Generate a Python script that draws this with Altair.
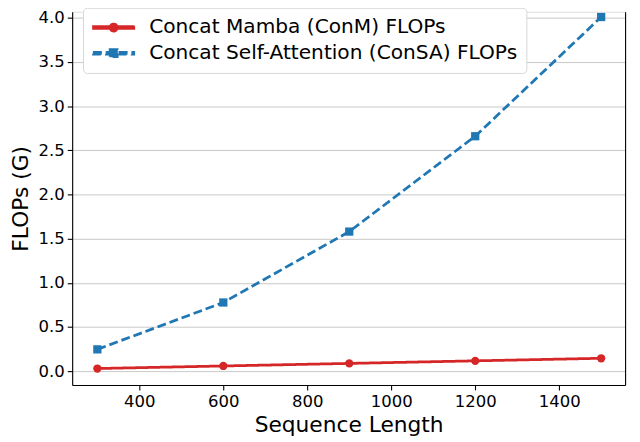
import altair as alt
import pandas as pd

seq_len = [300, 600, 900, 1200, 1500]
conm_flops = [0.029, 0.058, 0.087, 0.116, 0.145]
consa_flops = [0.246, 0.777, 1.58, 2.66, 4.01]
series_names = ["Concat Mamba (ConM) FLOPs", "Concat Self-Attention (ConSA) FLOPs"]
series_colors = ["#d62728", "#1f77b4"]
x_ticks = [400, 600, 800, 1000, 1200, 1400]
y_ticks = [0.0, 0.5, 1.0, 1.5, 2.0, 2.5, 3.0, 3.5, 4.0]

rows = []
for name, vals in zip(series_names, [conm_flops, consa_flops]):
    for x, v in zip(seq_len, vals):
        rows.append({"len": x, "flops": v, "series": name})
df = pd.DataFrame(rows)

FONT = "DejaVu Sans"

# legend glyphs: line + marker (unit box -1..1)
red_glyph = ("M-1,-0.07H1V0.07H-1Z "
             "M-0.2,0A0.2,0.2,0,1,1,0.2,0A0.2,0.2,0,1,1,-0.2,0Z")
blue_glyph = ("M-1,-0.07H-0.57V0.07H-1Z M-0.38,-0.07H0.05V0.07H-0.38Z "
              "M0.24,-0.07H0.67V0.07H0.24Z M0.86,-0.07H1V0.07H0.86Z "
              "M-0.2,-0.2H0.2V0.2H-0.2Z")

x_scale = alt.Scale(domain=[240, 1557], nice=False, zero=False)
y_scale = alt.Scale(domain=[-0.157, 4.07], nice=False, zero=False)

x_main = alt.X("len:Q", scale=x_scale,
               axis=alt.Axis(values=x_ticks, format="d", title="Sequence Length", grid=False,
                             labelFontSize=16.7, titleFontSize=22, tickSize=5,
                             labelPadding=4, titlePadding=4, domainColor="#000000",
                             tickColor="#000000", labelColor="#000000",
                             titleColor="#000000", titleFontWeight="normal",
                             labelFont=FONT, titleFont=FONT, domainWidth=1.1,
                             tickWidth=1.1))
y_main = alt.Y("flops:Q", scale=y_scale,
               axis=alt.Axis(values=y_ticks, format=".1f", title="FLOPs (G)", grid=True,
                             gridColor="#c8c8c8", gridWidth=1,
                             labelFontSize=16.7, titleFontSize=22, tickSize=5,
                             labelPadding=3, titlePadding=6, domainColor="#000000",
                             tickColor="#000000", labelColor="#000000",
                             titleColor="#000000", titleFontWeight="normal",
                             labelFont=FONT, titleFont=FONT, domainWidth=1.1,
                             tickWidth=1.1))
y_right = alt.Y("flops:Q", scale=y_scale,
                axis=alt.Axis(orient="right", labels=False, ticks=False, grid=False,
                              title=None, domain=True, domainColor="#000000",
                              domainWidth=1.1))
x_plain = alt.X("len:Q")
y_plain = alt.Y("flops:Q", axis=None)

color_scale = alt.Scale(domain=series_names, range=series_colors)
color_nolegend = alt.Color("series:N", scale=color_scale, legend=None)

leg = dict(title=None, orient="none", legendX=11, legendY=-4,
           symbolSize=1764, symbolOpacity=1,
           labelFontSize=20.4, labelFont=FONT, labelColor="#000000",
           labelOffset=14, clipHeight=22, rowPadding=4,
           padding=9, fillColor="white", strokeColor="#d6d6d6",
           cornerRadius=4, labelLimit=600)

base = alt.Chart(df)

legend_layer = base.mark_point(filled=True, opacity=0).encode(
    x=x_main, y=y_main,
    color=alt.Color("series:N", scale=color_scale, legend=alt.Legend(**leg)),
    shape=alt.Shape("series:N",
                    scale=alt.Scale(domain=series_names, range=[red_glyph, blue_glyph]),
                    legend=alt.Legend(**leg)),
)

lines = base.mark_line(strokeWidth=2.8).encode(
    x=x_plain, y=y_right, color=color_nolegend,
    strokeDash=alt.StrokeDash("series:N",
                              scale=alt.Scale(domain=series_names, range=[[1, 0], [9, 4]]),
                              legend=None),
)

red_pts = base.transform_filter(alt.datum.series == series_names[0]).mark_point(
    shape="circle", filled=True, size=70, opacity=1).encode(
    x=x_plain, y=y_plain, color=color_nolegend)
blue_pts = base.transform_filter(alt.datum.series == series_names[1]).mark_point(
    shape="square", filled=True, size=70, opacity=1).encode(
    x=x_plain, y=y_plain, color=color_nolegend)

chart = alt.layer(legend_layer, lines, red_pts, blue_pts).resolve_axis(
    y="independent"
).properties(
    width=560, height=378,
    autosize=alt.AutoSizeParams(type="none"),
    padding={"left": 65, "top": 1, "right": 7, "bottom": 55},
).configure_view(stroke=None).configure(font=FONT)

chart.save("out.html", embed_options={"renderer": "svg", "actions": False})
